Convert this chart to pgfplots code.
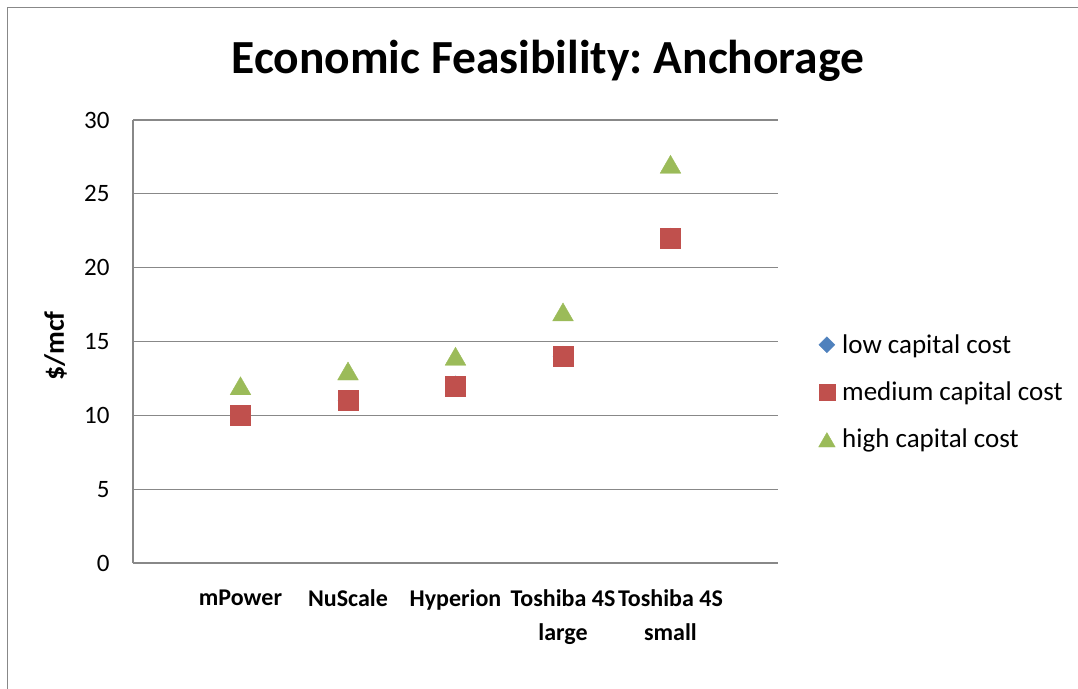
\documentclass[border=0pt]{standalone}
\usepackage{pgfplots}
\pgfplotsset{compat=1.18}
\usepackage{fontspec}
\setmainfont{Carlito}

\definecolor{lowc}{HTML}{4F81BD}
\definecolor{medc}{HTML}{C0504D}
\definecolor{highc}{HTML}{9BBB59}
\definecolor{gridc}{HTML}{888888}

\begin{document}
\begin{tikzpicture}
\useasboundingbox (0bp,0bp) rectangle (1078bp,689bp);
% outer chart frame (cut at right and bottom)
\draw[gridc, line width=1.2bp] (7.5bp,0bp) -- (7.5bp,681.5bp) -- (1078bp,681.5bp);
\begin{axis}[
    at={(133bp,126bp)}, anchor=south west,
    scale only axis, width=645bp, height=443bp,
    xmin=0, xmax=6, ymin=0, ymax=30,
    xtick={1,...,5},
    xticklabels={mPower, NuScale, Hyperion, Toshiba 4S\\large, Toshiba 4S\\small},
    ytick={0,5,...,30},
    axis x line*=bottom, axis y line*=left,
    axis line style={gridc, line width=1.3bp},
    major tick length=0pt,
    ymajorgrids, grid style={gridc, line width=1.3bp},
    /pgf/number format/assume math mode=true,
    yticklabel style={font=\fontsize{25bp}{30bp}\selectfont, xshift=-20bp},
    xticklabel style={font=\bfseries\fontsize{24bp}{34bp}\selectfont, align=center, anchor=north, yshift=-23bp},
    ylabel={\$/mcf},
    ylabel style={font=\bfseries\fontsize{28bp}{33bp}\selectfont, at={(axis description cs:-0.12,0.49)}, anchor=center},
    title={Economic Feasibility:\ Anchorage},
    title style={font=\bfseries\fontsize{47.5bp}{57bp}\selectfont, at={(axis description cs:0.643,1.121)}, anchor=center},
    legend style={at={(axis description cs:1.058,0.386)}, anchor=west, draw=none, fill=none,
        font=\fontsize{27bp}{32bp}\selectfont, row sep=23bp,
        /tikz/every odd column/.append style={column sep=5bp}},
    legend cell align=left,
    legend image code/.code={\draw[every mark/.append style={scale=0.8}] plot coordinates {(6bp,0bp)};},
]
% low series sits under the medium squares (same values)
\addplot[only marks, mark=diamond*, mark size=10bp, color=lowc, fill=lowc, mark options={xscale=1.33}]
    coordinates {(1,10) (2,11) (3,12) (4,14) (5,22)};
\addlegendentry{low capital cost}
\addplot[only marks, mark=square*, mark size=10bp, color=medc, fill=medc]
    coordinates {(1,10) (2,11) (3,12) (4,14) (5,22)};
\addlegendentry{medium capital cost}
\addplot[only marks, mark=triangle*, mark size=12bp, color=highc, fill=highc, mark options={yshift=-3bp}]
    coordinates {(1,12) (2,13) (3,14) (4,17) (5,27)};
\addlegendentry{high capital cost}
\end{axis}
\end{tikzpicture}
\end{document}
